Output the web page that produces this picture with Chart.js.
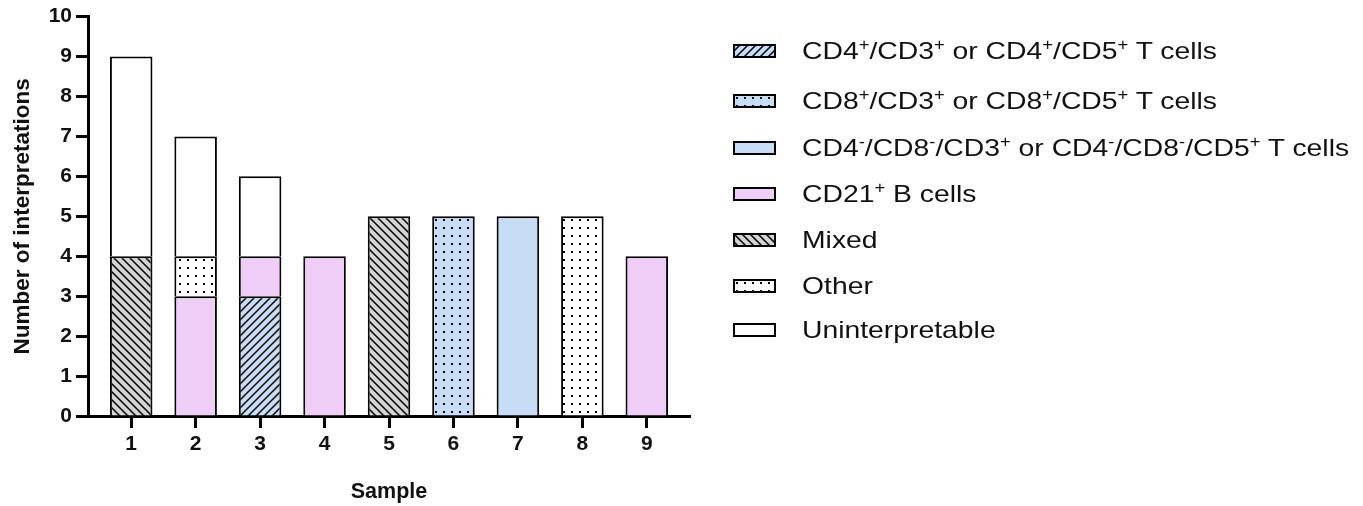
<!DOCTYPE html>
<html>
<head>
<meta charset="utf-8">
<script src="https://cdn.jsdelivr.net/npm/chart.js@4.4.1/dist/chart.umd.min.js"></script>
<style>
  html, body { margin: 0; padding: 0; background: #fff; }
  #wrap { position: relative; width: 1363px; height: 506px; overflow: hidden; }
  #legend { position: absolute; left: 733px; top: 0; font-family: "Liberation Sans", Arial, sans-serif; }
  .row { position: absolute; left: 0; height: 30px; white-space: nowrap; }
  .row canvas { position: absolute; left: 0; top: 8px; }
  .row span.txt {
    position: absolute; left: 69px; top: 0; font-size: 24px; line-height: 30px; color: #111;
    transform: scaleX(1.18); transform-origin: left center;
  }
  sup { font-size: 0.65em; vertical-align: 0.6em; line-height: 0; }
</style>
</head>
<body>
<div id="wrap">
  <canvas id="chart" width="1363" height="506"></canvas>
  <div id="legend"></div>
</div>
<script>
'use strict';

// Samples on the x axis
const samples = [1, 2, 3, 4, 5, 6, 7, 8, 9];
const yTicks = [0, 1, 2, 3, 4, 5, 6, 7, 8, 9, 10];

// Counts per sample for each interpretation (stack order bottom -> top)
const cd4Cells = [0, 0, 3, 0, 0, 0, 0, 0, 0];
const cd8Cells = [0, 0, 0, 0, 0, 5, 0, 0, 0];
const dnCells = [0, 0, 0, 0, 0, 0, 5, 0, 0];
const cd21Cells = [0, 3, 1, 4, 0, 0, 0, 0, 4];
const mixed = [4, 0, 0, 0, 5, 0, 0, 0, 0];
const other = [0, 1, 0, 0, 0, 0, 0, 5, 0];
const uninterpretable = [5, 3, 2, 0, 0, 0, 0, 0, 0];

const BLUE = '#c7ddf6';
const PINK = '#eecdf7';
const GREY = '#d3d3d3';

/**
 * Build a repeating fill pattern
 * @param {string} bg - background colour
 * @param {string} kind - 'fwd' | 'back' | 'dots' | 'none'
 */
function makePattern(bg, kind) {
  if (kind === 'none') return bg;
  const size = 8;
  const c = document.createElement('canvas');
  c.width = size;
  c.height = size;
  const ctx = c.getContext('2d');
  ctx.fillStyle = bg;
  ctx.fillRect(0, 0, size, size);
  ctx.strokeStyle = '#000';
  ctx.fillStyle = '#000';
  ctx.lineWidth = 1.5;
  if (kind === 'fwd') {
    ctx.beginPath();
    ctx.moveTo(-2, size + 2); ctx.lineTo(size + 2, -2);
    ctx.moveTo(-2, 2); ctx.lineTo(2, -2);
    ctx.moveTo(size - 2, size + 2); ctx.lineTo(size + 2, size - 2);
    ctx.stroke();
  } else if (kind === 'back') {
    ctx.beginPath();
    ctx.moveTo(-2, -2); ctx.lineTo(size + 2, size + 2);
    ctx.moveTo(size - 2, -2); ctx.lineTo(size + 2, 2);
    ctx.moveTo(-2, size - 2); ctx.lineTo(2, size + 2);
    ctx.stroke();
  } else if (kind === 'dots') {
    ctx.fillRect(3, 3, 2, 2);
  }
  return ctx.createPattern(c, 'repeat');
}

const SERIES = [
  { html: 'CD4<sup>+</sup>/CD3<sup>+</sup> or CD4<sup>+</sup>/CD5<sup>+</sup> T cells', values: cd4Cells, bg: BLUE, kind: 'fwd' },
  { html: 'CD8<sup>+</sup>/CD3<sup>+</sup> or CD8<sup>+</sup>/CD5<sup>+</sup> T cells', values: cd8Cells, bg: BLUE, kind: 'dots' },
  { html: 'CD4<sup>-</sup>/CD8<sup>-</sup>/CD3<sup>+</sup> or CD4<sup>-</sup>/CD8<sup>-</sup>/CD5<sup>+</sup> T cells', values: dnCells, bg: BLUE, kind: 'none' },
  { html: 'CD21<sup>+</sup> B cells', values: cd21Cells, bg: PINK, kind: 'none' },
  { html: 'Mixed', values: mixed, bg: GREY, kind: 'back' },
  { html: 'Other', values: other, bg: '#ffffff', kind: 'dots' },
  { html: 'Uninterpretable', values: uninterpretable, bg: '#ffffff', kind: 'none' },
];

const datasets = SERIES.map((s) => ({
  label: s.html.replace(/<[^>]+>/g, ''),
  data: samples
    .map((x, i) => ({ x, y: s.values[i] }))
    .filter((p) => p.y > 0),
  backgroundColor: makePattern(s.bg, s.kind),
  borderColor: '#000',
  borderWidth: { top: 2, left: 2, right: 2, bottom: 0 },
  borderSkipped: false,
  barPercentage: 0.66,
  categoryPercentage: 1,
}));

const FONT_FAMILY = '"Liberation Sans", Arial, sans-serif';
const tickFont = { family: FONT_FAMILY, size: 21, weight: 'bold' };

new Chart(document.getElementById('chart'), {
  type: 'bar',
  data: { datasets },
  options: {
    responsive: false,
    animation: false,
    layout: { padding: { left: 0, top: 16, right: 673, bottom: 0 } },
    plugins: {
      legend: { display: false },
      tooltip: { enabled: false },
    },
    scales: {
      x: {
        type: 'linear',
        stacked: true,
        offset: false,
        min: 0.33,
        max: 9.67,
        afterFit: (s) => { s.height = 90; },
        afterBuildTicks: (s) => { s.ticks = samples.map((v) => ({ value: v })); },
        grid: { offset: false, drawOnChartArea: false, drawTicks: true, tickLength: 12, tickWidth: 3, color: '#000' },
        border: { display: true, width: 3, color: '#000' },
        ticks: { color: '#111', font: tickFont, padding: 4, maxRotation: 0 },
        title: {
          display: true,
          text: 'Sample',
          color: '#111',
          font: { family: FONT_FAMILY, size: 21.5, weight: 'bold' },
          padding: { top: 0, bottom: 1 },
        },
      },
      y: {
        stacked: true,
        min: 0,
        max: 10,
        afterFit: (s) => { s.width = 88; },
        afterBuildTicks: (s) => { s.ticks = yTicks.map((v) => ({ value: v })); },
        grid: { drawOnChartArea: false, drawTicks: true, tickLength: 12, tickWidth: 3, color: '#000' },
        border: { display: true, width: 3, color: '#000' },
        ticks: { color: '#111', font: tickFont, padding: 4 },
        title: {
          display: true,
          text: 'Number of interpretations',
          color: '#111',
          font: { family: FONT_FAMILY, size: 22.5, weight: 'bold' },
          padding: { top: 9, bottom: 0 },
        },
      },
    },
  },
});

// HTML legend (superscripts need real markup)
const legendRows = [51, 101, 148, 194, 240, 286, 330];
const legendEl = document.getElementById('legend');
SERIES.forEach((s, i) => {
  const row = document.createElement('div');
  row.className = 'row';
  row.style.top = `${legendRows[i] - 15}px`;
  const sw = document.createElement('canvas');
  sw.width = 43;
  sw.height = 14;
  const ctx = sw.getContext('2d');
  ctx.fillStyle = makePattern(s.bg, s.kind);
  ctx.fillRect(0, 0, 43, 14);
  ctx.strokeStyle = '#000';
  ctx.lineWidth = 2;
  ctx.strokeRect(1, 1, 41, 12);
  row.appendChild(sw);
  const txt = document.createElement('span');
  txt.className = 'txt';
  txt.innerHTML = s.html;
  row.appendChild(txt);
  legendEl.appendChild(row);
});
</script>
</body>
</html>
